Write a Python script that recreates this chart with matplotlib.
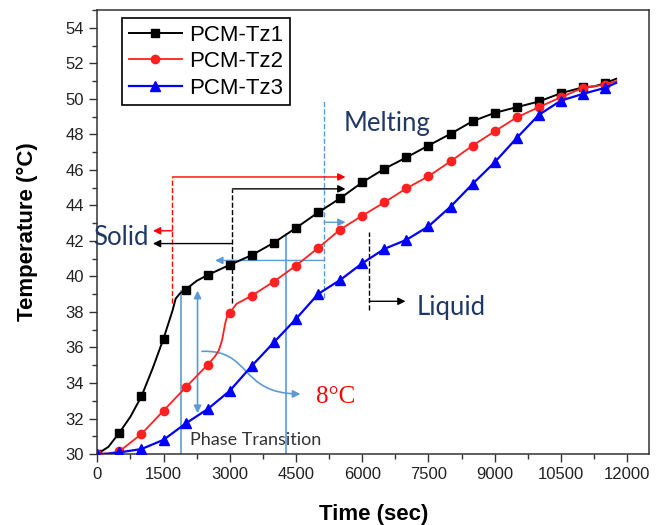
import matplotlib
matplotlib.use("Agg")
import matplotlib.pyplot as plt
from matplotlib.patches import FancyArrowPatch
from matplotlib.path import Path
from matplotlib.ticker import MultipleLocator

# temperature readings (time in sec, temperature in degC)
t_tz1 = [0, 250, 500, 750, 1000, 1250, 1500, 1700, 1775, 1875, 2000, 2250, 2500,
         3000, 3500, 4000, 4500, 5000, 5500, 6000, 6500, 7000, 7500, 8000, 8500,
         9000, 9500, 10000, 10500, 11000, 11250, 11500, 11750]
T_tz1 = [30.0, 30.4, 31.2, 32.1, 33.25, 34.8, 36.5, 38.05, 38.75, 39.05, 39.26, 39.75, 40.08,
         40.65, 41.2, 41.9, 42.73, 43.6, 44.4, 45.3, 46.06, 46.7, 47.37, 48.03, 48.74,
         49.21, 49.53, 49.85, 50.32, 50.65, 50.7, 50.88, 51.13]

t_tz2 = [0, 250, 500, 1000, 1500, 2000, 2500, 2650, 2750, 2825, 2900, 2950, 3000,
         3150, 3500, 4000, 4500, 5000, 5500, 6000, 6500, 7000, 7500, 8000, 8500,
         9000, 9500, 10000, 10500, 11000, 11500, 11750]
T_tz2 = [30.0, 30.03, 30.15, 31.13, 32.44, 33.75, 35.03, 35.45, 35.82, 36.4, 37.4, 37.85, 37.95,
         38.45, 38.92, 39.71, 40.61, 41.6, 42.64, 43.42, 44.17, 44.96, 45.64, 46.48, 47.37,
         48.17, 48.96, 49.53, 50.09, 50.62, 50.8, 51.0]

t_tz3 = [0, 250, 500, 1000, 1500, 2000, 2500, 3000, 3500, 4000, 4500, 5000, 5500,
         6000, 6500, 7000, 7500, 8000, 8500, 9000, 9500, 10000, 10500, 11000, 11500, 11750]
T_tz3 = [30.0, 30.02, 30.09, 30.28, 30.8, 31.72, 32.53, 33.56, 34.97, 36.29, 37.61, 39.01, 39.8,
         40.74, 41.55, 42.06, 42.82, 43.93, 45.21, 46.43, 47.8, 49.1, 49.9, 50.28, 50.62, 50.9]

labels = ["PCM-Tz1", "PCM-Tz2", "PCM-Tz3"]

x_ticks = [0, 1500, 3000, 4500, 6000, 7500, 9000, 10500, 12000]
y_ticks = [30, 32, 34, 36, 38, 40, 42, 44, 46, 48, 50, 52, 54]

navy = "#1f3864"
lblue = "#5b9bd5"

plt.rcParams['font.family'] = ['Liberation Sans', 'DejaVu Sans']

fig = plt.figure(figsize=(6.66, 5.25), dpi=100)
ax = fig.add_axes([0.1461, 0.1352, 0.8288, 0.8457])


def marks(t):
    return [i for i, v in enumerate(t) if v % 500 == 0]


ax.plot(t_tz1, T_tz1, color="black", lw=1.4, marker="s", ms=5.5, markevery=marks(t_tz1),
        label=labels[0], zorder=5)
ax.plot(t_tz2, T_tz2, color="#ff2020", lw=1.3, marker="o", ms=6, markevery=marks(t_tz2),
        label=labels[1], zorder=5)
ax.plot(t_tz3, T_tz3, color="#0000ff", lw=1.6, marker="^", ms=6.5, markevery=marks(t_tz3),
        label=labels[2], zorder=5)


def arrow(x0, y0, x1, y1, color, ms=11):
    ax.annotate("", xy=(x1, y1), xytext=(x0, y0),
                arrowprops=dict(arrowstyle="-|>", color=color, lw=1, shrinkA=0, shrinkB=0,
                                mutation_scale=ms))


# red: solid / melting boundary for Tz1 onset
ax.plot([1700, 1700], [38.5, 45.6], ls="--", color="red", lw=1)
arrow(1700, 45.6, 5620, 45.6, "red")
arrow(1700, 42.57, 1260, 42.57, "red")

# black dashed: Tz2
ax.plot([3060, 3060], [38.5, 44.93], ls="--", color="black", lw=1)
arrow(3060, 44.93, 5620, 44.93, "black")
arrow(3060, 41.85, 1260, 41.85, "black")

# light blue dashed: Tz3
ax.plot([5140, 5140], [38.8, 49.9], ls="--", color=lblue, lw=1)
arrow(5140, 43.05, 5620, 43.05, lblue)
arrow(5140, 40.9, 2670, 40.9, lblue)

# black dashed: liquid
ax.plot([6160, 6160], [38.1, 42.5], ls="--", color="black", lw=1)
arrow(6160, 38.6, 6980, 38.6, "black")

# phase transition lines
ax.plot([1890, 1890], [30, 39.2], color=lblue, lw=1.2)
ax.plot([4280, 4280], [30, 42.4], color=lblue, lw=1.2)
ax.annotate("", xy=(2270, 39.2), xytext=(2270, 32.3),
            arrowprops=dict(arrowstyle="<|-|>", color=lblue, lw=1.2, shrinkA=0, shrinkB=0,
                            mutation_scale=11))

curve = Path([(2370, 35.78), (3500, 35.9), (3200, 33.4), (4600, 33.38)],
             [Path.MOVETO, Path.CURVE4, Path.CURVE4, Path.CURVE4])
ax.add_patch(FancyArrowPatch(path=curve, arrowstyle="-|>", color=lblue, lw=1.2,
                             mutation_scale=11, transform=ax.transData))

ax.text(530, 42.2, "Solid", color=navy, fontsize=18.5, family="Lato", ha="center", va="center")
ax.text(6560, 48.6, "Melting", color=navy, fontsize=18.5, family="Lato", ha="center", va="center")
ax.text(7230, 38.25, "Liquid", color=navy, fontsize=18.5, family="Lato", ha="left", va="center")
ax.text(2100, 30.8, "Phase Transition", color="#333333", fontsize=13, family="Lato",
        ha="left", va="center")
ax.text(5400, 33.2, "8°C", color="red", fontsize=18, family="Liberation Serif",
        ha="center", va="center")

ax.set_xlim(0, 12500)
ax.set_ylim(30, 55)
ax.set_xticks(x_ticks)
ax.set_yticks(y_ticks)
ax.xaxis.set_minor_locator(MultipleLocator(750))
ax.yaxis.set_minor_locator(MultipleLocator(1))
ax.tick_params(which="major", direction="out", length=6, width=1, labelsize=12,
               labelcolor="#222222", color="#333333")
ax.tick_params(which="minor", direction="out", length=3.5, width=1, color="#333333")
for s in ax.spines.values():
    s.set_color("#333333")
    s.set_linewidth(1.1)

ax.set_xlabel("Time (sec)", fontsize=16, fontweight="bold", labelpad=16)
ax.set_ylabel("Temperature (°C)", fontsize=16, fontweight="bold", labelpad=20)

leg = ax.legend(loc="upper left", bbox_to_anchor=(0.045, 0.982), borderaxespad=0,
                fontsize=16, fancybox=False, framealpha=1, edgecolor="black",
                handlelength=2.4, handletextpad=0.3, labelspacing=0.25, borderpad=0.3)
leg.get_frame().set_linewidth(1.2)

plt.savefig("out.png", dpi=100)
